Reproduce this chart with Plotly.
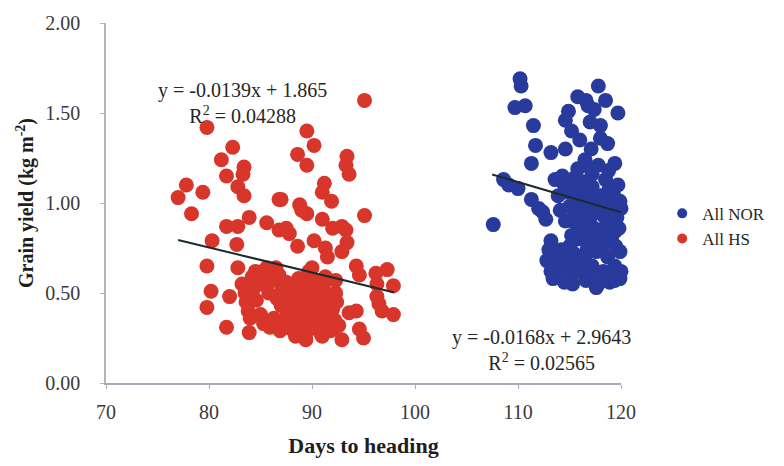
import plotly.graph_objects as go

# Days to heading / grain yield, heat-stress (HS) plots
hs_days = [
    95.1, 79.8, 89.5, 90.2, 82.3, 81.2, 83.4, 83.3, 81.7, 88.6, 89.5, 93.4, 93.6, 93.3,
    77.8, 77.0, 79.4, 82.8, 83.4, 86.8, 91.2, 91.0, 88.8, 91.9, 89.5, 95.1, 78.3, 83.9,
    81.7, 82.8, 85.6, 86.8, 87.8, 91.0, 92.0, 93.3, 89.0, 87.0, 87.5, 92.9,
    80.3, 82.7, 90.2, 91.3, 93.4, 88.6, 92.9, 91.5,
    79.8, 82.8, 80.2, 79.8, 82.0, 81.7, 83.9, 85.9, 83.6, 84.2, 85.6, 86.5,
    94.3, 94.6, 96.2, 97.3, 97.9, 96.3, 96.3, 96.8, 97.9, 96.5,
    93.6, 94.3, 94.6, 95.0, 92.9, 92.0, 91.0, 92.3, 92.3, 91.3, 89.4, 88.8, 87.8,
    83.2, 83.5, 83.8, 84.0, 84.3, 84.6, 84.8, 85.0, 85.2, 85.3, 85.5, 85.8, 86.2, 86.3,
    86.6, 86.8, 87.0, 87.1, 87.3, 87.5, 87.6, 87.9, 88.0, 88.2, 88.3, 88.5, 88.7, 88.9,
    89.0, 89.1, 89.3, 89.5, 89.6, 89.8, 89.9, 90.1, 90.2, 90.4, 90.5, 90.7, 90.8, 91.0,
    91.1, 91.3, 91.5, 91.6, 91.8, 92.0, 92.2, 92.4, 92.6, 86.9, 88.4, 90.9, 84.5, 89.7,
    90.0,
]
hs_yield = [
    1.57, 1.42, 1.40, 1.32, 1.31, 1.24, 1.20, 1.16, 1.15, 1.27, 1.21, 1.26, 1.16, 1.21,
    1.10, 1.03, 1.06, 1.09, 1.04, 1.02, 1.11, 1.06, 0.99, 1.01, 0.94, 0.93, 0.94, 0.92,
    0.87, 0.87, 0.89, 0.85, 0.83, 0.91, 0.86, 0.85, 0.96, 1.02, 0.86, 0.87,
    0.79, 0.77, 0.79, 0.75, 0.78, 0.76, 0.73, 0.70,
    0.65, 0.64, 0.51, 0.42, 0.48, 0.31, 0.28, 0.31, 0.45, 0.59, 0.64, 0.64,
    0.65, 0.60, 0.61, 0.63, 0.54, 0.48, 0.55, 0.40, 0.38, 0.44,
    0.39, 0.40, 0.30, 0.25, 0.24, 0.30, 0.26, 0.50, 0.57, 0.59, 0.24, 0.30, 0.31,
    0.55, 0.50, 0.40, 0.36, 0.52, 0.46, 0.58, 0.38, 0.62, 0.33, 0.54, 0.50, 0.57, 0.36,
    0.47, 0.60, 0.43, 0.52, 0.34, 0.56, 0.39, 0.48, 0.30, 0.53, 0.42, 0.36, 0.58, 0.46,
    0.33, 0.51, 0.40, 0.28, 0.55, 0.45, 0.36, 0.50, 0.31, 0.42, 0.57, 0.38, 0.47, 0.33,
    0.53, 0.43, 0.37, 0.48, 0.29, 0.41, 0.35, 0.45, 0.32, 0.29, 0.26, 0.27, 0.62, 0.62,
    0.64,
]

# Days to heading / grain yield, normal (NOR) plots
nor_days = [
    110.2, 110.3, 109.7, 110.7, 117.8, 115.8, 116.6, 114.9, 114.6, 116.8, 118.5, 117.4,
    119.7, 111.5, 115.2, 118.0, 117.0, 111.7, 113.2, 114.6, 111.3, 118.7, 117.1, 116.5,
    117.8, 119.4, 120.2, 115.8, 118.0, 116.0,
    113.6, 109.1, 108.6, 110.0, 111.3, 112.0, 112.7, 107.6, 113.9, 115.2, 116.5, 118.5,
    119.7, 120.4, 119.4, 112.4, 113.2,
    114.3, 114.8, 115.0, 115.5, 115.7, 116.0, 116.2, 116.4, 116.8, 117.0, 117.2, 117.5,
    117.8, 118.0, 118.3, 118.6, 118.8, 119.0, 119.3, 119.6, 120.0, 115.3, 116.3, 117.4,
    118.6, 119.8, 115.2, 115.8, 116.9, 118.0, 119.1, 120.1, 114.2, 115.4, 116.5, 117.6,
    118.7, 119.9, 114.0, 115.0, 116.1, 117.2, 118.3, 119.4, 120.2, 113.4, 114.5, 115.3,
    116.6, 117.6, 118.9, 119.9, 113.6, 113.2, 117.8, 115.2, 119.4, 120.0,
    114.6, 115.9, 117.0, 118.2, 119.4, 120.3, 114.6, 115.8, 116.9, 118.1, 119.2, 120.3,
    114.0, 113.8, 116.7, 118.2, 119.5, 120.4, 115.0, 116.2, 117.3, 118.9, 120.3, 115.6,
    116.6, 119.9, 117.2, 116.0, 120.3, 114.1, 114.5, 116.9, 118.8, 112.8, 113.0,
]
nor_yield = [
    1.69, 1.65, 1.53, 1.54, 1.65, 1.59, 1.57, 1.51, 1.46, 1.54, 1.57, 1.52,
    1.50, 1.43, 1.40, 1.43, 1.45, 1.32, 1.28, 1.30, 1.22, 1.33, 1.30, 1.24,
    1.21, 1.22, 1.19, 1.19, 1.36, 1.35,
    1.13, 1.10, 1.13, 1.08, 1.02, 0.97, 0.91, 0.88, 1.04, 1.10, 1.08, 1.13,
    1.10, 1.06, 0.99, 0.95, 0.79,
    1.15, 1.06, 0.98, 1.14, 1.02, 0.95, 1.12, 0.99, 1.04, 0.92, 1.16, 1.00,
    0.96, 1.04, 0.93, 1.00, 1.07, 0.95, 1.04, 0.92, 0.97, 0.90, 0.88, 0.86,
    0.88, 0.86, 0.82, 0.80, 0.78, 0.81, 0.79, 0.80, 0.74, 0.72, 0.70, 0.73,
    0.70, 0.73, 0.66, 0.64, 0.62, 0.65, 0.62, 0.65, 0.62, 0.58, 0.56, 0.55,
    0.57, 0.53, 0.56, 0.58, 0.72, 0.62, 0.55, 0.57, 0.57, 0.62,
    0.90, 0.86, 0.83, 0.84, 0.84, 0.88, 0.68, 0.66, 0.60, 0.58, 0.60, 0.70,
    0.60, 0.67, 0.74, 0.76, 0.76, 0.76, 0.76, 0.82, 0.94, 0.91, 0.93, 0.94,
    1.01, 1.01, 1.09, 1.06, 1.12, 0.96, 1.10, 1.20, 1.18, 0.68, 0.74,
]

# Linear trend lines: slope, intercept, R² and x extent
hs_fit = {"slope": -0.0139, "intercept": 1.865, "r2": "0.04288", "x": [77.0, 98.0]}
nor_fit = {"slope": -0.0168, "intercept": 2.9643, "r2": "0.02565", "x": [107.5, 120.0]}

x_ticks = [70, 80, 90, 100, 110, 120]
y_ticks = [0.0, 0.5, 1.0, 1.5, 2.0]

RED = "#d8352b"
BLUE = "#283a9c"
LINE = "#1e2a2c"
SERIF = "Liberation Serif, Times New Roman, serif"

fig = go.Figure()

fig.add_trace(go.Scatter(
    x=hs_days, y=hs_yield, mode="markers", name="All HS", showlegend=False,
    cliponaxis=False,
    marker=dict(size=15, color=RED, line=dict(width=0)),
))
fig.add_trace(go.Scatter(
    x=nor_days, y=nor_yield, mode="markers", name="All NOR", showlegend=False,
    cliponaxis=False,
    marker=dict(size=15, color=BLUE, line=dict(width=0)),
))

for fit in (hs_fit, nor_fit):
    xs = fit["x"]
    ys = [fit["slope"] * v + fit["intercept"] for v in xs]
    fig.add_trace(go.Scatter(
        x=xs, y=ys, mode="lines", showlegend=False, hoverinfo="skip",
        cliponaxis=False, line=dict(color=LINE, width=2),
    ))

# Legend entries with smaller symbols
fig.add_trace(go.Scatter(x=[None], y=[None], mode="markers", name="All NOR",
                         marker=dict(size=10, color=BLUE)))
fig.add_trace(go.Scatter(x=[None], y=[None], mode="markers", name="All HS",
                         marker=dict(size=10, color=RED)))


def fit_label(fit):
    sign = "+" if fit["intercept"] >= 0 else "-"
    eq = f"y = {fit['slope']}x {sign} {abs(fit['intercept'])}"
    return f"{eq}<br>R<sup>2</sup> = {fit['r2']}"


# Equation + R² block next to each trend line
for ax_x, ax_y, fit in [(83.3, 1.555, hs_fit), (112.3, 0.186, nor_fit)]:
    fig.add_annotation(x=ax_x, y=ax_y, text=fit_label(fit), showarrow=False,
                       align="center",
                       font=dict(family=SERIF, size=20, color="#262626"))

fig.update_layout(
    width=784, height=466,
    margin=dict(l=106, r=163, t=18, b=82),
    paper_bgcolor="white", plot_bgcolor="white",
    font=dict(family=SERIF, color="#333333"),
    legend=dict(x=1.08, y=0.52, xanchor="left", yanchor="top",
                font=dict(family=SERIF, size=17, color="#262626"),
                bgcolor="rgba(0,0,0,0)", tracegroupgap=0),
    xaxis=dict(
        range=[70, 120], tickvals=x_ticks, ticktext=[str(v) for v in x_ticks],
        showgrid=False, zeroline=False, showline=True, linecolor="#a9abb6",
        linewidth=1.5, ticks="outside", ticklen=4, tickcolor="#a9abb6",
        tickfont=dict(family=SERIF, size=20, color="#3a3a3a"),
        ticklabelstandoff=6,
        title=dict(text="<b>Days to heading</b>", standoff=16,
                   font=dict(family=SERIF, size=22, color="#1e1e1e")),
    ),
    yaxis=dict(
        range=[0, 2.0], tickvals=y_ticks, ticktext=[f"{v:.2f}" for v in y_ticks],
        showgrid=False, zeroline=False, showline=True, linecolor="#b4b4b4",
        linewidth=1.5, ticks="outside", ticklen=4, tickcolor="#b4b4b4",
        tickfont=dict(family=SERIF, size=20, color="#3a3a3a"),
        ticklabelstandoff=16,
        title=dict(text="<b>Grain yield (kg m<sup>-2</sup>)</b>", standoff=6,
                   font=dict(family=SERIF, size=20, color="#1e1e1e")),
    ),
)

fig.write_html("out.html")
